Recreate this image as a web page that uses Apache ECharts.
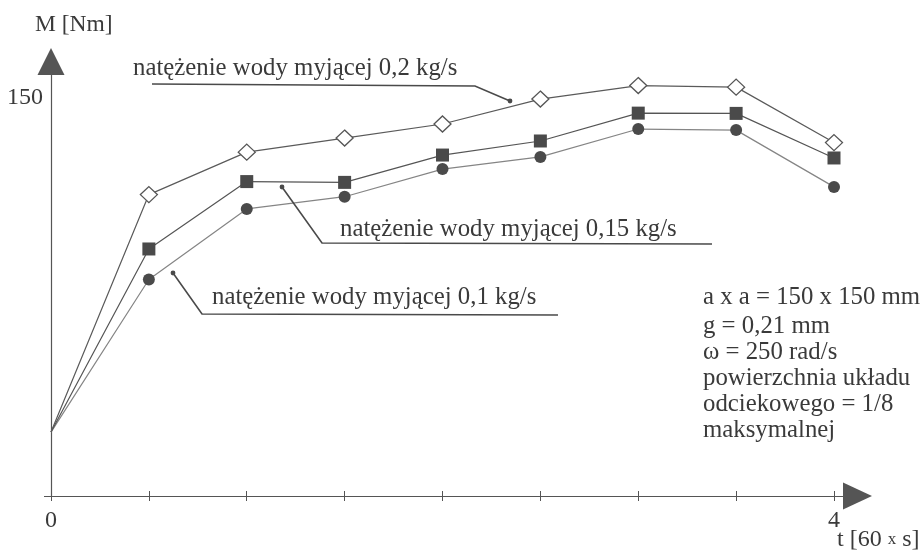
<!DOCTYPE html>
<html>
<head>
<meta charset="utf-8">
<script src="https://cdn.jsdelivr.net/npm/echarts@6/dist/echarts.min.js"></script>
<style>
html,body{margin:0;padding:0;background:#fff;}
#chart{width:924px;height:551px;}
</style>
</head>
<body>
<div id="chart"></div>
<script>
// ---- data ----
var tValues = [0, 0.5, 1, 1.5, 2, 2.5, 3, 3.5, 4];
var flow02 = [24.1, 113.6, 129.6, 134.9, 140.2, 149.6, 154.7, 154.1, 133.2];
var flow015 = [24.1, 93.1, 118.5, 118.2, 128.5, 133.8, 144.3, 144.2, 127.4];
var flow01 = [24.1, 81.6, 108.2, 112.8, 123.2, 127.8, 138.3, 137.9, 116.5];
var xTicks = [0, 0.5, 1, 1.5, 2, 2.5, 3, 3.5, 4];
var xTickLabels = [0, 4];
var yTickLabels = [150];
var seriesNames = ['natężenie wody myjącej 0,2 kg/s', 'natężenie wody myjącej 0,15 kg/s', 'natężenie wody myjącej 0,1 kg/s'];
var infoLines = ['a x a = 150 x 150 mm', 'g = 0,21 mm', 'ω = 250 rad/s', 'powierzchnia układu', 'odciekowego = 1/8', 'maksymalnej'];

var FONT = '"Liberation Serif", "DejaVu Serif", serif';
var TXT = '#3a3a3a';
var AX = '#555';

function pts(vals) {
  return vals.map(function (v, i) {
    var item = { value: [tValues[i], v] };
    if (i === 0) item.symbol = 'none';
    return item;
  });
}

var chart = echarts.init(document.getElementById('chart'), null, { renderer: 'canvas' });

function txt(text, x, y, size, align) {
  return {
    type: 'text', x: x, y: y, z: 10,
    style: { text: text, fill: TXT, font: size + 'px ' + FONT, align: align || 'left', verticalAlign: 'middle' }
  };
}
function leader(points) {
  return [
    { type: 'polyline', z: 5, shape: { points: points }, style: { stroke: '#4a4a4a', lineWidth: 1.6, fill: null } },
    { type: 'circle', z: 5, shape: { cx: points[0][0], cy: points[0][1], r: 2.4 }, style: { fill: '#4a4a4a' } }
  ];
}

var graphics = [];
graphics.push(txt('M [Nm]', 35, 25, 23.5));
graphics.push(txt(seriesNames[0], 133, 68, 24.8));
graphics.push(txt(seriesNames[1], 340, 229, 24.8));
graphics.push(txt(seriesNames[2], 212, 297, 24.8));
graphics = graphics.concat(leader([[510, 101], [475, 86], [152, 84]]));
graphics = graphics.concat(leader([[282, 187], [322, 243], [712, 244]]));
graphics = graphics.concat(leader([[173, 273], [202, 314], [558, 315]]));
var infoY = [297, 326, 352, 378, 404, 430];
infoLines.forEach(function (l, i) { graphics.push(txt(l, 703, infoY[i], 24.8)); });
graphics.push({
  type: 'text', x: 837, y: 540, z: 10,
  style: {
    text: '{a|t [60 }{b|x}{a| s]}',
    rich: { a: { fontSize: 24, fontFamily: FONT, fill: TXT }, b: { fontSize: 17, fontFamily: FONT, fill: TXT } },
    fill: TXT, font: '24px ' + FONT, align: 'left', verticalAlign: 'middle'
  }
});

var option = {
  backgroundColor: '#fff',
  animation: false,
  grid: { left: 51, right: 81, top: 75, bottom: 55, containLabel: false },
  xAxis: [
    {
      type: 'value', min: 0, max: 4.046, position: 'bottom',
      axisLine: { show: true, symbol: ['none', 'triangle'], symbolSize: [27, 29], symbolOffset: [0, 14.5], lineStyle: { color: AX, width: 1.2 } },
      axisTick: { show: true, customValues: xTicks, length: 5, lineStyle: { color: AX, width: 1 } },
      axisLabel: { show: true, customValues: xTickLabels, margin: 13, color: TXT, fontSize: 24, fontFamily: FONT },
      splitLine: { show: false }
    },
    {
      type: 'value', min: 0, max: 4.046, position: 'bottom',
      axisLine: { show: false },
      axisTick: { show: true, inside: true, customValues: xTicks, length: 5, lineStyle: { color: AX, width: 1 } },
      axisLabel: { show: false },
      splitLine: { show: false }
    }
  ],
  yAxis: {
    type: 'value', min: 0, max: 158.67,
    axisLine: { show: true, symbol: ['none', 'triangle'], symbolSize: [27, 27], symbolOffset: [0, 13.5], lineStyle: { color: AX, width: 1.2 } },
    axisTick: { show: true, customValues: [0], length: 7, lineStyle: { color: AX } },
    axisLabel: { show: true, customValues: yTickLabels, margin: 8, color: TXT, fontSize: 24, fontFamily: FONT },
    splitLine: { show: false }
  },
  series: [
    {
      name: seriesNames[2], type: 'line', data: pts(flow01),
      symbol: 'circle', symbolSize: 12,
      lineStyle: { color: '#858585', width: 1.2 },
      itemStyle: { color: '#4a4a4a' }, z: 2
    },
    {
      name: seriesNames[1], type: 'line', data: pts(flow015),
      symbol: 'rect', symbolSize: [13, 13],
      lineStyle: { color: '#555', width: 1.2 },
      itemStyle: { color: '#4a4a4a' }, z: 3
    },
    {
      name: seriesNames[0], type: 'line', data: pts(flow02),
      symbol: 'diamond', symbolSize: [17, 16],
      lineStyle: { color: '#5a5a5a', width: 1.2 },
      itemStyle: { color: '#fff', borderColor: '#555', borderWidth: 1.3 }, z: 4
    }
  ],
  graphic: graphics
};
chart.setOption(option);
</script>
</body>
</html>
